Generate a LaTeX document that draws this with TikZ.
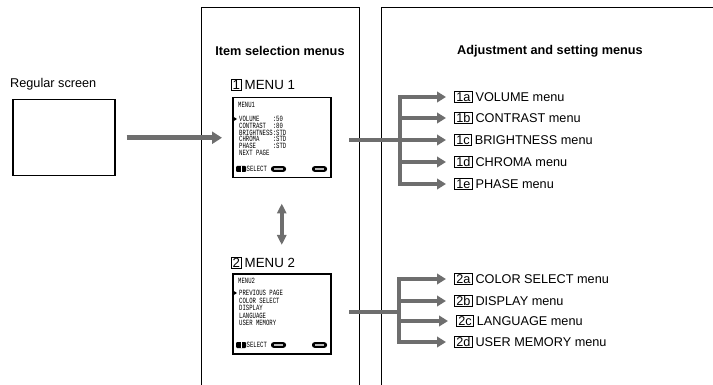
\documentclass[tikz,border=0pt]{standalone}
\usepackage{fontspec}
\setmainfont{Liberation Sans}
\newfontfamily\scrfont[FakeStretch=0.7]{Liberation Mono}
\usetikzlibrary{arrows.meta}
\definecolor{arrgray}{RGB}{110,110,110}
\begin{document}
\begin{tikzpicture}[x=1pt,y=-1pt,
  panel/.style={line width=0.9pt},
  screenbox/.style={draw, line width=1.5pt, inner sep=0, anchor=north west},
  garrow/.style={draw=arrgray, line width=5pt, -{Triangle[length=10pt,width=12pt]}},
  branch/.style={draw=arrgray, line width=4.5pt, -{Triangle[length=9pt,width=10.5pt]}},
  feed/.style={draw=arrgray, line width=4.5pt},
  stemline/.style={draw=arrgray, line width=4.5pt, line cap=rect},
  darrow/.style={draw=arrgray, line width=4pt, {Triangle[length=10pt,width=9pt]}-{Triangle[length=10pt,width=9pt]}},
  numbox/.style={draw, line width=0.7pt, inner xsep=2pt, inner ysep=1pt, text height=9.1pt, text depth=0pt, font=\fontsize{12.7}{14}\selectfont},
  numboxs/.style={draw, line width=0.7pt, inner xsep=1.2pt, inner ysep=1pt, text height=9.5pt, text depth=0pt, font=\fontsize{13.3}{15}\selectfont},
  lbl/.style={inner sep=0, font=\fontsize{12.7}{14}\selectfont},
  lbls/.style={inner sep=0, font=\fontsize{13.3}{15}\selectfont},
  head/.style={inner sep=0, font=\fontsize{12.7}{14}\selectfont\bfseries},
  scr/.style={inner sep=0, anchor=west, font=\scrfont\fontsize{8}{9}\selectfont},
  botrow/.pic={
    \fill[rounded corners=1pt] (4,-3) rectangle (14,3);
    \draw[white, line width=0.5pt] (9,-3) -- (9,3);
    \node[scr] at (14.5,0) {SELECT};
    \fill[rounded corners=2.5pt] (39,-2.8) rectangle (54,2.8);
    \fill[gray!55] (42,-0.7) rectangle (51,0.7);
    \fill[rounded corners=2.5pt] (80,-2.8) rectangle (95,2.8);
    \fill[gray!55] (83,-0.7) rectangle (92,0.7);
  },
  marker/.pic={\fill (0,-2.5) -- (4,0) -- (0,2.5) -- cycle;}
]
\useasboundingbox (0,0) rectangle (713,385);

% panels
\draw[panel] (201,385) -- (201,7) -- (359,7) -- (359,385);
\draw[panel] (381,385) -- (381,7) -- (713,7);
\node[head] (h1) at (280,51) {Item selection menus};
\node[head] (h2) at (550,51) {Adjustment and setting menus};

% regular screen
\node[lbl, anchor=west] (regl) at (10,84) {Regular screen};
\node[screenbox, minimum width=102pt, minimum height=76pt] (reg) at (12,99) {};

% MENU 1
\node[numboxs, anchor=west] (t1) at (231,85) {1};
\node[lbls, anchor=base west] (t1l) at ([xshift=3pt]t1.base east) {MENU 1};
\node[screenbox, minimum width=98pt, minimum height=80pt] (m1) at (232,97) {};
\node[scr] (m1t) at (238,105) {MENU1};
\pic at (233,119) {marker};
\foreach \y/\a/\b in {119/VOLUME/:50, 126/CONTRAST/:80, 132.5/BRIGHTNESS/:STD, 139/CHROMA/:STD, 146/PHASE/:STD}{
  \node[scr] at (239,\y) {\a};
  \node[scr] at (272.6,\y) {\b};
}
\node[scr] at (239,153) {NEXT PAGE};
\pic at (232,169) {botrow};

% MENU 2
\node[numboxs, anchor=west] (t2) at (231,263) {2};
\node[lbls, anchor=base west] (t2l) at ([xshift=3pt]t2.base east) {MENU 2};
\node[screenbox, minimum width=98pt, minimum height=80pt] (m2) at (232,273) {};
\node[scr] (m2t) at (238,281) {MENU2};
\pic at (233,293) {marker};
\foreach \y/\a in {293/PREVIOUS PAGE, 300.5/COLOR SELECT, 308/DISPLAY, 315.5/LANGUAGE, 323/USER MEMORY}{
  \node[scr] at (239,\y) {\a};
}
\pic at (232,345) {botrow};

% arrows left
\draw[garrow, shorten <=11pt, shorten >=10pt] (reg.east) -- (m1.west);
\draw[darrow, shorten <=25pt, shorten >=28pt] (m1.south) -- (m2.north);

% upper branch
\coordinate (f1) at (349,140);
\coordinate (s1) at (400,140);
\draw[feed] (f1) -- (s1);
\draw[stemline] (400,97) -- (400,184);
\foreach \n/\y/\t in {1a/97/VOLUME menu, 1b/118/CONTRAST menu, 1c/140/BRIGHTNESS menu, 1d/162/CHROMA menu, 1e/184/PHASE menu}{
  \node[numbox, anchor=west] (l\n) at (454,\y) {\n};
  \node[lbl, anchor=base west] at ([xshift=2.5pt]l\n.base east) {\t};
  \draw[branch] (400,\y) -- ([xshift=-8pt]l\n.west);
}

% lower branch
\coordinate (f2) at (349,312);
\coordinate (s2) at (399,312);
\draw[feed] (f2) -- (s2);
\draw[stemline] (399,279) -- (399,342);
\foreach \n/\y/\x/\t in {2a/279/454/COLOR SELECT menu, 2b/301/454/DISPLAY menu, 2c/321/456/LANGUAGE menu, 2d/342/454/USER MEMORY menu}{
  \node[numbox, anchor=west] (l\n) at (\x,\y) {\n};
  \node[lbl, anchor=base west] at ([xshift=2.5pt]l\n.base east) {\t};
  \draw[branch] (399,\y) -- ([xshift=-8pt]l\n.west);
}
\end{tikzpicture}
\end{document}
